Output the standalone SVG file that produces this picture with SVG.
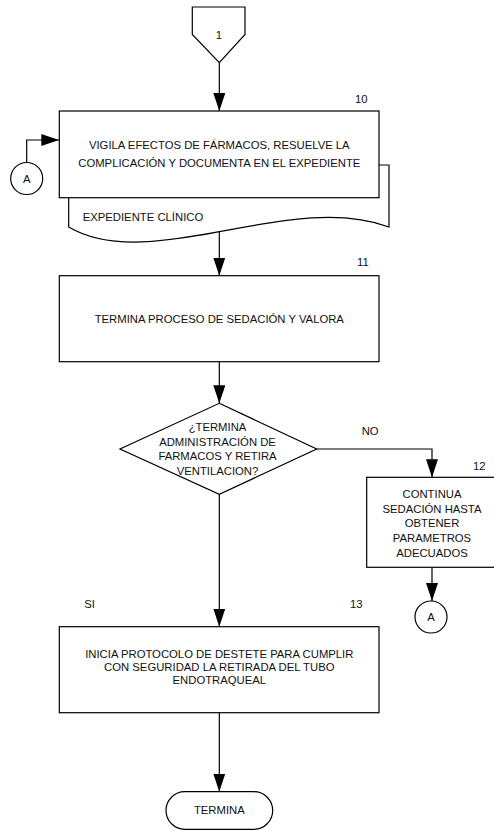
<svg xmlns="http://www.w3.org/2000/svg" width="494" height="831" viewBox="0 0 494 831">
  <style>
    .shape { fill: #fff; stroke: #000; stroke-width: 1.2; }
    .line { fill: none; stroke: #000; stroke-width: 1.2; }
    text { font-family: "Liberation Sans", Arial, sans-serif; font-size: 11.3px; fill: #111; }
    .c { text-anchor: middle; }
  </style>
  <defs>
    <marker id="arrow" viewBox="0 0 18 12" refX="18" refY="6" markerWidth="18" markerHeight="12" markerUnits="userSpaceOnUse" orient="auto">
      <path d="M0,0 L18,6 L0,12 Z" fill="#000"/>
    </marker>
  </defs>

  <!-- off-page connector 1 -->
  <g id="offpage-1">
    <polygon class="shape" points="192.3,7 245,7 245,34.5 219.3,62.7 192.3,34.5"/>
    <text class="c" x="219" y="39">1</text>
  </g>

  <!-- step 10 with attached record document -->
  <g id="doc-expediente">
    <path class="shape" d="M68.7,165 H389 V227 C290,190 150,275 68.7,227 Z"/>
    <text x="82.7" y="220.5">EXPEDIENTE CLÍNICO</text>
  </g>
  <g id="step-10">
    <rect class="shape" x="59.3" y="111" width="319.7" height="86.7"/>
    <text class="c" x="219.3" y="149.3">VIGILA EFECTOS DE FÁRMACOS, RESUELVE LA</text>
    <text class="c" x="219.3" y="166.7">COMPLICACIÓN Y DOCUMENTA EN EL EXPEDIENTE</text>
    <text x="355" y="103.3">10</text>
  </g>

  <!-- connector A (entry) -->
  <g id="conn-a-in">
    <circle class="shape" cx="26.7" cy="178.5" r="16"/>
    <text class="c" x="26.7" y="182.5">A</text>
  </g>

  <!-- step 11 -->
  <g id="step-11">
    <rect class="shape" x="59.3" y="275.7" width="319.7" height="86"/>
    <text class="c" x="219.3" y="323.3">TERMINA PROCESO DE SEDACIÓN Y VALORA</text>
    <text x="357" y="265.7">11</text>
  </g>

  <!-- decision -->
  <g id="decision">
    <polygon class="shape" points="219.3,403.3 316.7,449 219.3,494.3 120,449"/>
    <text class="c" x="217.5" y="430.7">¿TERMINA</text>
    <text class="c" x="217.5" y="445.5">ADMINISTRACIÓN DE</text>
    <text class="c" x="217.5" y="460">FARMACOS Y RETIRA</text>
    <text class="c" x="217.5" y="474.5">VENTILACION?</text>
  </g>

  <!-- step 12 -->
  <g id="step-12">
    <rect class="shape" x="366.7" y="477.3" width="131" height="90"/>
    <text class="c" x="432" y="497.7">CONTINUA</text>
    <text class="c" x="432" y="512.5">SEDACIÓN HASTA</text>
    <text class="c" x="432" y="527.3">OBTENER</text>
    <text class="c" x="432" y="542">PARAMETROS</text>
    <text class="c" x="432" y="556.7">ADECUADOS</text>
    <text x="473" y="470">12</text>
  </g>

  <!-- connector A (exit) -->
  <g id="conn-a-out">
    <circle class="shape" cx="431" cy="617" r="16"/>
    <text class="c" x="431" y="621">A</text>
  </g>

  <!-- step 13 -->
  <g id="step-13">
    <rect class="shape" x="59.3" y="626.7" width="319.7" height="86"/>
    <text class="c" x="219.3" y="658">INICIA PROTOCOLO DE DESTETE PARA CUMPLIR</text>
    <text class="c" x="219.3" y="671">CON SEGURIDAD LA RETIRADA DEL TUBO</text>
    <text class="c" x="219.3" y="684">ENDOTRAQUEAL</text>
    <text x="350" y="608">13</text>
  </g>

  <!-- end terminator -->
  <g id="end">
    <rect class="shape" x="166" y="791.7" width="106.7" height="37.6" rx="18.8" ry="18.8"/>
    <text class="c" x="219.3" y="813.5">TERMINA</text>
  </g>

  <!-- connectors -->
  <g id="connectors">
    <line class="line" x1="219.3" y1="62.7" x2="219.3" y2="111" marker-end="url(#arrow)"/>
    <polyline class="line" points="26.7,162.5 26.7,140 59.3,140" marker-end="url(#arrow)"/>
    <line class="line" x1="219.3" y1="231.5" x2="219.3" y2="275.7" marker-end="url(#arrow)"/>
    <line class="line" x1="219.3" y1="361.7" x2="219.3" y2="403.3" marker-end="url(#arrow)"/>
    <polyline class="line" points="316.7,449 432,449 432,477.3" marker-end="url(#arrow)"/>
    <line class="line" x1="432" y1="567.3" x2="432" y2="601" marker-end="url(#arrow)"/>
    <line class="line" x1="219.3" y1="494.3" x2="219.3" y2="626.7" marker-end="url(#arrow)"/>
    <line class="line" x1="219.3" y1="712.7" x2="219.3" y2="791.7" marker-end="url(#arrow)"/>
    <text x="361.7" y="435">NO</text>
    <text x="84.3" y="608.3">SI</text>
  </g>
</svg>
